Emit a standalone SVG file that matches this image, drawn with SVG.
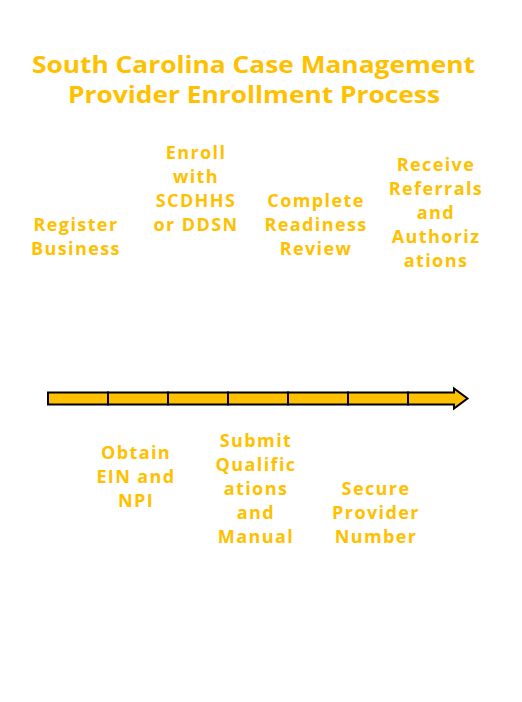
<svg xmlns="http://www.w3.org/2000/svg" width="522" height="702" viewBox="0 0 522 702">
<style>
text{font-family:"Open Sans","Noto Sans","DejaVu Sans",sans-serif;font-weight:700;fill:#FFC000;text-anchor:middle}
.t{font-size:23px}
.l{font-size:18px;letter-spacing:1.4px}
.seg{fill:#FFC000;stroke:#000;stroke-width:2}
</style>
<rect width="522" height="702" fill="#fff"/>
<g id="title">
<text class="t" x="253.5" y="73" textLength="443" lengthAdjust="spacingAndGlyphs">South Carolina Case Management</text>
<text class="t" x="254" y="103" textLength="372" lengthAdjust="spacingAndGlyphs">Provider Enrollment Process</text>
</g>
<g id="connectors">
<rect class="seg" x="48" y="392.5" width="60" height="12"/>
<rect class="seg" x="108" y="392.5" width="60" height="12"/>
<rect class="seg" x="168" y="392.5" width="60" height="12"/>
<rect class="seg" x="228" y="392.5" width="60" height="12"/>
<rect class="seg" x="288" y="392.5" width="60" height="12"/>
<rect class="seg" x="348" y="392.5" width="60" height="12"/>
<path class="seg" d="M408 392.5 H454 V388.5 L467.5 398.5 L454 408.5 V404.5 H408 Z"/>
</g>
<g id="n1"><text class="l" x="76"><tspan x="76" y="231">Register</tspan><tspan x="76" y="255">Business</tspan></text></g>
<g id="n2"><text class="l" x="136"><tspan x="136" y="459">Obtain</tspan><tspan x="136" y="483">EIN and</tspan><tspan x="136" y="507">NPI</tspan></text></g>
<g id="n3"><text class="l" x="196"><tspan x="196" y="159">Enroll</tspan><tspan x="196" y="183">with</tspan><tspan x="196" y="207">SCDHHS</tspan><tspan x="196" y="231">or DDSN</tspan></text></g>
<g id="n4"><text class="l" x="256"><tspan x="256" y="447">Submit</tspan><tspan x="256" y="471">Qualific</tspan><tspan x="256" y="495">ations</tspan><tspan x="256" y="519">and</tspan><tspan x="256" y="543">Manual</tspan></text></g>
<g id="n5"><text class="l" x="316"><tspan x="316" y="207">Complete</tspan><tspan x="316" y="231">Readiness</tspan><tspan x="316" y="255">Review</tspan></text></g>
<g id="n6"><text class="l" x="376"><tspan x="376" y="495">Secure</tspan><tspan x="376" y="519">Provider</tspan><tspan x="376" y="543">Number</tspan></text></g>
<g id="n7"><text class="l" x="436"><tspan x="436" y="171">Receive</tspan><tspan x="436" y="195">Referrals</tspan><tspan x="436" y="219">and</tspan><tspan x="436" y="243">Authoriz</tspan><tspan x="436" y="267">ations</tspan></text></g>
</svg>
